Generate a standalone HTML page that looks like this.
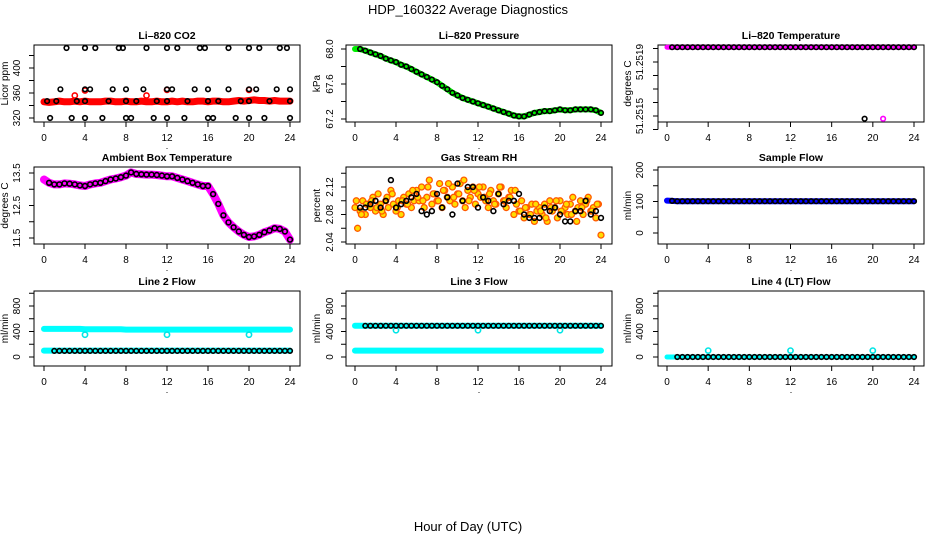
<!DOCTYPE html>
<html><head><meta charset="utf-8">
<style>
body{margin:0;background:#fff;}
svg{display:block;font-family:"Liberation Sans",sans-serif;}
</style></head>
<body>
<svg id="c" width="936" height="540" viewBox="0 0 936 540">
<text x="468" y="14" text-anchor="middle" font-size="13">HDP_160322  Average Diagnostics</text>
<text x="468" y="531" text-anchor="middle" font-size="13">Hour of Day (UTC)</text>
</svg>
<script>
const hrs49=[0,0.5,1,1.5,2,2.5,3,3.5,4,4.5,5,5.5,6,6.5,7,7.5,8,8.5,9,9.5,10,10.5,11,11.5,12,12.5,13,13.5,14,14.5,15,15.5,16,16.5,17,17.5,18,18.5,19,19.5,20,20.5,21,21.5,22,22.5,23,23.5,24];
const hrs48=hrs49.slice(1);
const xTicks=[0,4,8,12,16,20,24];

const co2Red=[346,345,346,347,346,346,347,346,347,346,346,346,347,347,346,346,347,346,346,347,346,346,347,346,346,347,346,347,346,346,347,347,346,347,347,346,346,347,348,347,348,349,348,348,347,348,347,347,347];
const co2RedOutHrs=[3,4,10,12,20];
const co2RedOutVals=[356,364,356,365,365];
const co2BlackHrs=[2.2,4,5,7.3,7.7,10,12,13,15.2,15.7,18,20,21,23,23.7, 0.3,1.2,3.2,4,6.3,8,9,11,12,14,16,17,19.2,20,22,24, 1.6,4,4.5,6.7,8,9.7,12,12.5,14.7,16,18,20,20.7,22.7,24, 0.6,2.7,4,5.7,8,8.5,10.7,12,13.7,16,16.5,18.7,20,21.5,24];
const co2BlackVals=[432,432,432,432,432,432,432,432,432,432,432,432,432,432,432, 347,347,347,347,347,347,347,347,347,347,347,347,347,347,347,347, 366,366,366,366,366,366,366,366,366,366,366,366,366,366,366, 320,320,320,320,320,320,320,320,320,320,320,320,320,320,320];

const pressure=[68.0,68.0,67.98,67.96,67.94,67.92,67.89,67.87,67.85,67.82,67.80,67.77,67.74,67.71,67.68,67.65,67.62,67.58,67.54,67.50,67.47,67.44,67.42,67.40,67.38,67.36,67.34,67.32,67.30,67.28,67.26,67.24,67.23,67.23,67.25,67.27,67.28,67.29,67.29,67.30,67.31,67.30,67.30,67.31,67.31,67.31,67.31,67.30,67.27];

const licorTemp=[51.25201,51.25201,51.25201,51.25201,51.25201,51.25201,51.25201,51.25201,51.25201,51.25201,51.25201,51.25201,51.25201,51.25201,51.25201,51.25201,51.25201,51.25201,51.25201,51.25201,51.25201,51.25201,51.25201,51.25201,51.25201,51.25201,51.25201,51.25201,51.25201,51.25201,51.25201,51.25201,51.25201,51.25201,51.25201,51.25201,51.25201,51.25201,51.25201,51.25201,51.25201,51.25201,51.25201,51.25201,51.25201,51.25201,51.25201,51.25201,51.25201];
const tempOutHrs=[19.2,21];
const tempOutVals=[51.25148,51.25148];

const ambient=[13.3,13.2,13.15,13.15,13.18,13.17,13.15,13.12,13.1,13.15,13.18,13.2,13.25,13.3,13.33,13.37,13.42,13.52,13.47,13.46,13.45,13.45,13.44,13.42,13.4,13.4,13.35,13.3,13.25,13.2,13.15,13.1,13.1,12.85,12.55,12.2,11.98,11.83,11.7,11.6,11.53,11.55,11.6,11.68,11.73,11.8,11.78,11.7,11.45];

const rhYellow=[2.09,2.06,2.085,2.1,2.08,2.095,2.09,2.105,2.085,2.11,2.095,2.08,2.1,2.09,2.115,2.095,2.085,2.1,2.08,2.105,2.095,2.11,2.09,2.1,2.115,2.1,2.12,2.09,2.105,2.13,2.095,2.11,2.1,2.125,2.09,2.115,2.105,2.1,2.12,2.095,2.11,2.125,2.1,2.09,2.115,2.105,2.12,2.095,2.11,2.105,2.12,2.1,2.09,2.115,2.1,2.095,2.11,2.12,2.1,2.09,2.105,2.115,2.08,2.095,2.085,2.1,2.075,2.09,2.08,2.095,2.07,2.085,2.09,2.08,2.095,2.07,2.1,2.085,2.09,2.075,2.1,2.085,2.09,2.08,2.095,2.105,2.085,2.09,2.1,2.08,2.095,2.105,2.085,2.09,2.075,2.095,2.05];
const rhYellow2=[2.1,2.08,2.095,2.1,2.09,2.085,2.105,2.11,2.09,2.1,2.095,2.115,2.105,2.1,2.12,2.11,2.1,2.115,2.125,2.105,2.11,2.13,2.1,2.115,2.12,2.105,2.11,2.095,2.12,2.1,2.105,2.115,2.085,2.09,2.08,2.095,2.085,2.075,2.09,2.1,2.085,2.095,2.08,2.07,2.09,2.1,2.085,2.095];
const rhBlack=[2.09,2.09,2.095,2.1,2.09,2.1,2.13,2.09,2.095,2.1,2.105,2.11,2.085,2.08,2.085,2.11,2.09,2.105,2.08,2.125,2.1,2.12,2.12,2.09,2.105,2.1,2.085,2.11,2.095,2.1,2.1,2.11,2.08,2.075,2.075,2.075,2.09,2.085,2.09,2.08,2.07,2.07,2.085,2.085,2.1,2.08,2.085,2.075];

const sampleFlow=[103,102,101,101,101,101,101,101,101,101,101,101,101,101,101,101,101,101,101,101,101,101,101,101,101,101,101,101,101,101,101,101,101,101,101,101,101,101,101,101,101,101,101,101,101,101,101,101,101];
const line2High=[440,440,440,440,440,440,440,440,435,435,435,435,435,435,435,435,430,430,430,430,430,430,430,430,430,430,430,430,430,430,430,430,430,430,430,430,430,430,430,430,430,430,430,430,430,430,430,430,430];
const line2Low=[100,100,100,100,100,100,100,100,100,100,100,100,100,100,100,100,100,100,100,100,100,100,100,100,100,100,100,100,100,100,100,100,100,100,100,100,100,100,100,100,100,100,100,100,100,100,100,100,100];
const line2Black=[95,95,95,95,95,95,95,95,95,95,95,95,95,95,95,95,95,95,95,95,95,95,95,95,95,95,95,95,95,95,95,95,95,95,95,95,95,95,95,95,95,95,95,95,95,95,95,95];
const line3High=[490,490,490,490,490,490,490,490,490,490,490,490,490,490,490,490,490,490,490,490,490,490,490,490,490,490,490,490,490,490,490,490,490,490,490,490,490,490,490,490,490,490,490,490,490,490,490,490,490];
const line3Low=[100,100,100,100,100,100,100,100,100,100,100,100,100,100,100,100,100,100,100,100,100,100,100,100,100,100,100,100,100,100,100,100,100,100,100,100,100,100,100,100,100,100,100,100,100,100,100,100,100];
const line4=[0,0,0,0,0,0,0,0,0,0,0,0,0,0,0,0,0,0,0,0,0,0,0,0,0,0,0,0,0,0,0,0,0,0,0,0,0,0,0,0,0,0,0,0,0,0,0,0,0];
const flowOutHrs=[4,12,20];
const line2Out=[350,350,350];
const line3Out=[420,420,420];
const line4Out=[100,100,100];

const svg=document.getElementById('c');
const NS='http://www.w3.org/2000/svg';
function mk(tag,attrs,parent){const e=document.createElementNS(NS,tag);for(const k in attrs)e.setAttribute(k,attrs[k]);(parent||svg).appendChild(e);return e;}

const cols=[{l:34,r:300,x0:44,x1:290,lab:20,ttl:8},{l:346,r:612,x0:355,x1:601,lab:333,ttl:320},{l:658,r:924,x0:667,x1:914,lab:643,ttl:631}];
const rows=[{t:45,b:122},{t:167,b:244},{t:291,b:366}];

function panel(ci,ri,name,title,ytitle,v1,y1,v2,y2,ticks,labels){
  const c=cols[ci],r=rows[ri];
  const g=mk('g',{});
  
  
  const xs=h=>c.x0+(h/24)*(c.x1-c.x0);
  const ys=v=>y1+(v-v1)*(y2-y1)/(v2-v1);
  const t=mk('text',{x:(c.l+c.r)/2,y:r.t-6,'text-anchor':'middle','font-size':10.5,'font-weight':'bold'},g);t.textContent=title;
  
  
  const bx=mk('rect',{x:c.l,y:r.t,width:c.r-c.l,height:r.b-r.t,fill:'none',stroke:'#000','stroke-width':1},g);
  
  
  mk('line',{x1:c.x0,x2:c.x1,y1:r.b,y2:r.b,stroke:'#000'},g);
  xTicks.forEach(h=>{const x=xs(h);mk('line',{x1:x,x2:x,y1:r.b,y2:r.b+5,stroke:'#000'},g);
    const tl=mk('text',{x:x,y:r.b+19,'text-anchor':'middle','font-size':10},g);tl.textContent=h;
    
    });
  const dot=mk('text',{x:(c.l+c.r)/2,y:r.b+27,'text-anchor':'middle','font-size':9},g);dot.textContent='.';
  const tys=ticks.map(ys);
  mk('line',{x1:c.l,x2:c.l,y1:Math.min(...tys),y2:Math.max(...tys),stroke:'#000'},g);
  ticks.forEach(v=>{const y=ys(v);mk('line',{x1:c.l-5,x2:c.l,y1:y,y2:y,stroke:'#000'},g);});
  labels.forEach(([v,s])=>{const y=ys(v);const tl=mk('text',{x:c.lab,y:y,'text-anchor':'middle','font-size':10,transform:`rotate(-90 ${c.lab} ${y})`},g);tl.textContent=s;
    
    });
  const ym=(r.t+r.b)/2;
  const yt=mk('text',{x:c.ttl,y:ym,'text-anchor':'middle','font-size':10,transform:`rotate(-90 ${c.ttl} ${ym})`},g);yt.textContent=ytitle;
  
  
  return {g,xs,ys};
}
function band(p,hs,vs,color,w){
  const pts=hs.map((h,i)=>p.xs(h).toFixed(1)+','+p.ys(vs[i]).toFixed(1)).join(' ');
  const e=mk('polyline',{points:pts,fill:'none',stroke:color,'stroke-width':w,'stroke-linecap':'round','stroke-linejoin':'round'},p.g);
  
  
}
function pts(p,hs,vs,color,rad,sw,fill){
  hs.forEach((h,i)=>{const e=mk('circle',{cx:p.xs(h).toFixed(1),cy:p.ys(vs[i]).toFixed(1),r:rad,fill:fill||'none',stroke:color,'stroke-width':sw},p.g);
    
    });
}

let p;
p=panel(0,0,'co2-panel','Li\u2013820 CO2','Licor ppm',320,118,400,68,[320,340,360,380,400,420],[[320,'320'],[360,'360'],[400,'400']]);
band(p,hrs49,co2Red,'#ff0000',7);
pts(p,co2RedOutHrs,co2RedOutVals,'#ff0000',2.6,1.6);
pts(p,co2BlackHrs,co2BlackVals,'#000',2.3,1.6);

p=panel(1,0,'pressure-panel','Li\u2013820 Pressure','kPa',68.0,49,67.2,119,[67.2,67.4,67.6,67.8,68.0],[[67.2,'67.2'],[67.6,'67.6'],[68.0,'68.0']]);
band(p,hrs49,pressure,'#00ee00',6);
pts(p,hrs48,pressure.slice(1),'#000',2.3,1.6);

p=panel(2,0,'licor-temperature-panel','Li\u2013820 Temperature','degrees C',51.2519,62,51.2515,116,[51.2514,51.2515,51.2516,51.2517,51.2518,51.2519,51.2520],[[51.2515,'51.2515'],[51.2519,'51.2519']]);
band(p,hrs49,licorTemp,'#ff00ff',5);
pts(p,hrs48,licorTemp.slice(1),'#000',2.3,1.6);
pts(p,[tempOutHrs[0]],[tempOutVals[0]],'#000',2.3,1.6);
pts(p,[tempOutHrs[1]],[tempOutVals[1]],'#ff00ff',2.3,1.6);

p=panel(0,1,'ambient-temperature-panel','Ambient Box Temperature','degrees C',13.5,173,11.5,238,[11.5,12,12.5,13,13.5],[[11.5,'11.5'],[12.5,'12.5'],[13.5,'13.5']]);
band(p,hrs49,ambient,'#ff00ff',8);
pts(p,hrs48,ambient.slice(1),'#000',2.4,1.6);

p=panel(1,1,'gas-stream-rh-panel','Gas Stream RH','percent',2.12,187,2.04,242,[2.04,2.06,2.08,2.10,2.12,2.14],[[2.04,'2.04'],[2.08,'2.08'],[2.12,'2.12']]);
const rhH=rhYellow.map((v,i)=>i*0.25);
const rhH2=rhYellow2.map((v,i)=>0.125+i*0.5);
pts(p,rhH,rhYellow,'#ff5a00',3,1.3,'#ffdd00');
pts(p,rhH2,rhYellow2,'#ff5a00',3,1.3,'#ffdd00');
pts(p,hrs48,rhBlack,'#000',2.4,1.6);

p=panel(2,1,'sample-flow-panel','Sample Flow','ml/min',0,233,200,170,[0,50,100,150,200],[[0,'0'],[100,'100'],[200,'200']]);
band(p,hrs49,sampleFlow,'#0000ff',6);
pts(p,hrs48,sampleFlow.slice(1),'#000',2.3,1.6);

const flowTicks=[0,200,400,600,800,1000];
const flowLabels=[[0,'0'],[400,'400'],[800,'800']];
p=panel(0,2,'line2-flow-panel','Line 2 Flow','ml/min',0,357,800,306,flowTicks,flowLabels);
band(p,hrs49,line2High,'#00ffff',6);
band(p,hrs49,line2Low,'#00ffff',6);
pts(p,flowOutHrs,line2Out,'#00e5e5',2.6,1.6);
pts(p,hrs48.slice(1),line2Black.slice(1),'#000',2.3,1.6);

p=panel(1,2,'line3-flow-panel','Line 3 Flow','ml/min',0,357,800,306,flowTicks,flowLabels);
band(p,hrs49,line3High,'#00ffff',6);
band(p,hrs49,line3Low,'#00ffff',6);
pts(p,flowOutHrs,line3Out,'#00e5e5',2.6,1.6);
pts(p,hrs48.slice(1),line3High.slice(2),'#000',2.3,1.6);

p=panel(2,2,'line4-flow-panel','Line 4 (LT) Flow','ml/min',0,357,800,306,flowTicks,flowLabels);
band(p,hrs49,line4,'#00ffff',5);
pts(p,flowOutHrs,line4Out,'#00e5e5',2.6,1.6);
pts(p,hrs48.slice(1),line4.slice(2),'#000',2.3,1.6);
</script>
</body></html>
